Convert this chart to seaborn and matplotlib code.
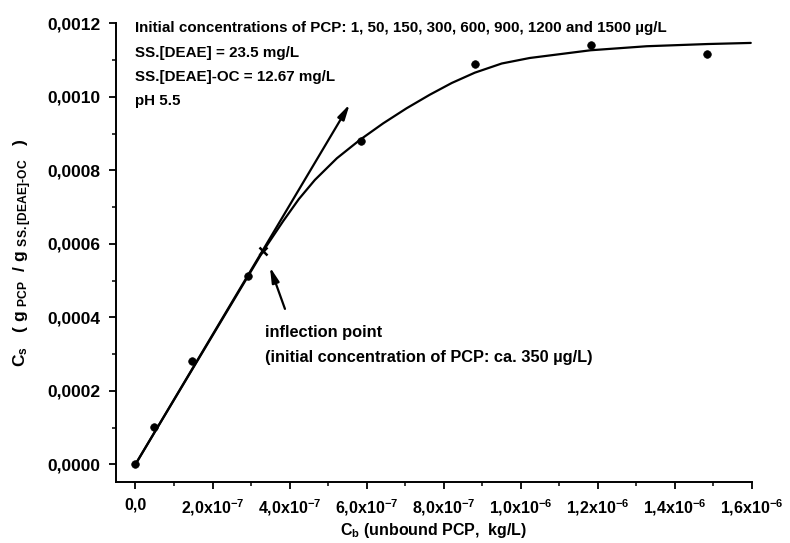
import numpy as np
import pandas as pd
import matplotlib
matplotlib.use("Agg")
import matplotlib.pyplot as plt
import seaborn as sns

# measured points (8 initial PCP concentrations)
cb_points = [0.0, 0.48e-7, 1.47e-7, 2.92e-7, 5.85e-7, 8.81e-7, 1.183e-6, 1.484e-6]
cs_points = [0.0, 0.000101, 0.000281, 0.000513, 0.000879, 0.001091, 0.001141, 0.001117]

# fitted curve
cb_curve = [0.0, 3.31e-7, 3.834e-7, 4.241e-7, 4.656e-7, 5.227e-7,
            5.824e-7, 6.428e-7, 7.035e-7, 7.639e-7, 8.21e-7, 8.807e-7, 9.507e-7,
            1.0233e-6, 1.181e-6, 1.327e-6, 1.485e-6, 1.597e-6]
cs_curve = [0.0, 0.000580, 0.000662, 0.000722, 0.000774, 0.000833,
            0.000883, 0.000928, 0.000969, 0.001006, 0.001038, 0.001066, 0.001091,
            0.001106, 0.001127, 0.001138, 0.001144, 0.001147]

# inflection point and tangent
inflection = (3.31e-7, 0.000580)
tangent_start = (0.0, 0.0)
tangent_end = (5.56e-7, 0.000980)
pointer_start = (3.88e-7, 0.000423)
pointer_end = (3.49e-7, 0.000537)

x_ticks = [0.0, 2e-7, 4e-7, 6e-7, 8e-7, 1.0e-6, 1.2e-6, 1.4e-6, 1.6e-6]
x_tick_labels = ["0,0", "2,0x10$^{-7}$", "4,0x10$^{-7}$", "6,0x10$^{-7}$", "8,0x10$^{-7}$",
                 "1,0x10$^{-6}$", "1,2x10$^{-6}$", "1,4x10$^{-6}$", "1,6x10$^{-6}$"]
y_ticks = [0.0, 0.0002, 0.0004, 0.0006, 0.0008, 0.0010, 0.0012]
y_tick_labels = ["0,0000", "0,0002", "0,0004", "0,0006", "0,0008", "0,0010", "0,0012"]

info_lines = [
    "Initial concentrations of PCP: 1, 50, 150, 300, 600, 900, 1200 and 1500 µg/L",
    "SS.[DEAE] = 23.5 mg/L",
    "SS.[DEAE]-OC = 12.67 mg/L",
    "pH 5.5",
]
info_y = [0.001187, 0.001119, 0.001054, 0.000989]

sns.set_style("ticks")
plt.rcParams["font.family"] = ["Liberation Sans", "DejaVu Sans"]
plt.rcParams["font.weight"] = "bold"
plt.rcParams["text.color"] = "black"
plt.rcParams["axes.labelcolor"] = "black"
plt.rcParams["xtick.color"] = "black"
plt.rcParams["ytick.color"] = "black"
plt.rcParams["mathtext.fontset"] = "custom"
plt.rcParams["mathtext.rm"] = "Liberation Sans:bold"
plt.rcParams["mathtext.it"] = "Liberation Sans:bold"
plt.rcParams["mathtext.bf"] = "Liberation Sans:bold"
plt.rcParams["mathtext.default"] = "rm"

fig = plt.figure(figsize=(7.9, 5.43), dpi=100)
ax = fig.add_axes([0.1468, 0.1118, 0.805, 0.845])

curve_df = pd.DataFrame({"cb": cb_curve, "cs": cs_curve})
pts_df = pd.DataFrame({"cb": cb_points, "cs": cs_points})

sns.lineplot(data=curve_df, x="cb", y="cs", sort=False, estimator=None,
             color="black", lw=1.6, ax=ax)
sns.scatterplot(data=pts_df, x="cb", y="cs", color="black", s=30,
                edgecolor="black", linewidth=0.5, ax=ax, zorder=3)
ax.plot(*inflection, marker="x", color="black", ms=6, mew=1.8)

ax.annotate("", xy=tangent_end, xytext=tangent_start,
            arrowprops=dict(arrowstyle="-|>,head_width=0.22,head_length=0.9",
                            color="black", lw=1.6, shrinkA=0, shrinkB=0))
ax.annotate("", xy=pointer_end, xytext=pointer_start,
            arrowprops=dict(arrowstyle="-|>,head_width=0.22,head_length=0.9",
                            color="black", lw=1.6, shrinkA=0, shrinkB=0))

ax.text(3.36e-7, 0.000360, "inflection point", fontsize=11.8, fontweight="bold", va="center")
ax.text(3.36e-7, 0.000292, "(initial concentration of PCP: ca. 350 µg/L)",
        fontsize=11.8, fontweight="bold", va="center")
for line, yy in zip(info_lines, info_y):
    ax.text(0.0, yy, line, fontsize=10.9, fontweight="bold", va="center")

ax.set_xlim(-0.506e-7, 1.6e-6)
ax.set_ylim(-0.000049, 0.0012)
ax.set_xticks(x_ticks)
ax.set_xticklabels(x_tick_labels)
ax.set_xticks([1e-7, 3e-7, 5e-7, 7e-7, 9e-7, 1.1e-6, 1.3e-6, 1.5e-6], minor=True)
ax.set_yticks(y_ticks)
ax.set_yticklabels(y_tick_labels)
ax.set_yticks([0.0001, 0.0003, 0.0005, 0.0007, 0.0009, 0.0011], minor=True)
ax.tick_params(which="major", length=5, width=1.3, direction="out", pad=6)
ax.tick_params(axis="y", which="major", labelsize=12.5)
ax.tick_params(axis="x", which="major", labelsize=11.5)
ax.tick_params(which="minor", length=3, width=1.1, direction="out")
for lbl in ax.get_xticklabels() + ax.get_yticklabels():
    lbl.set_fontweight("bold")

ax.set_xlabel("C$_\\mathrm{b}$ (unbound PCP,  kg/L)", fontsize=11.5, fontweight="bold", labelpad=2)
ax.set_ylabel("C$_\\mathrm{s}$   ( g $_\\mathrm{PCP}$  / g $_\\mathrm{SS.[DEAE]\\text{-}OC}$   )",
              fontsize=12.5, fontweight="bold", labelpad=10)

sns.despine(ax=ax)
for s in ["left", "bottom"]:
    ax.spines[s].set_linewidth(1.4)
    ax.spines[s].set_color("black")

fig.savefig("out.png", dpi=100)
